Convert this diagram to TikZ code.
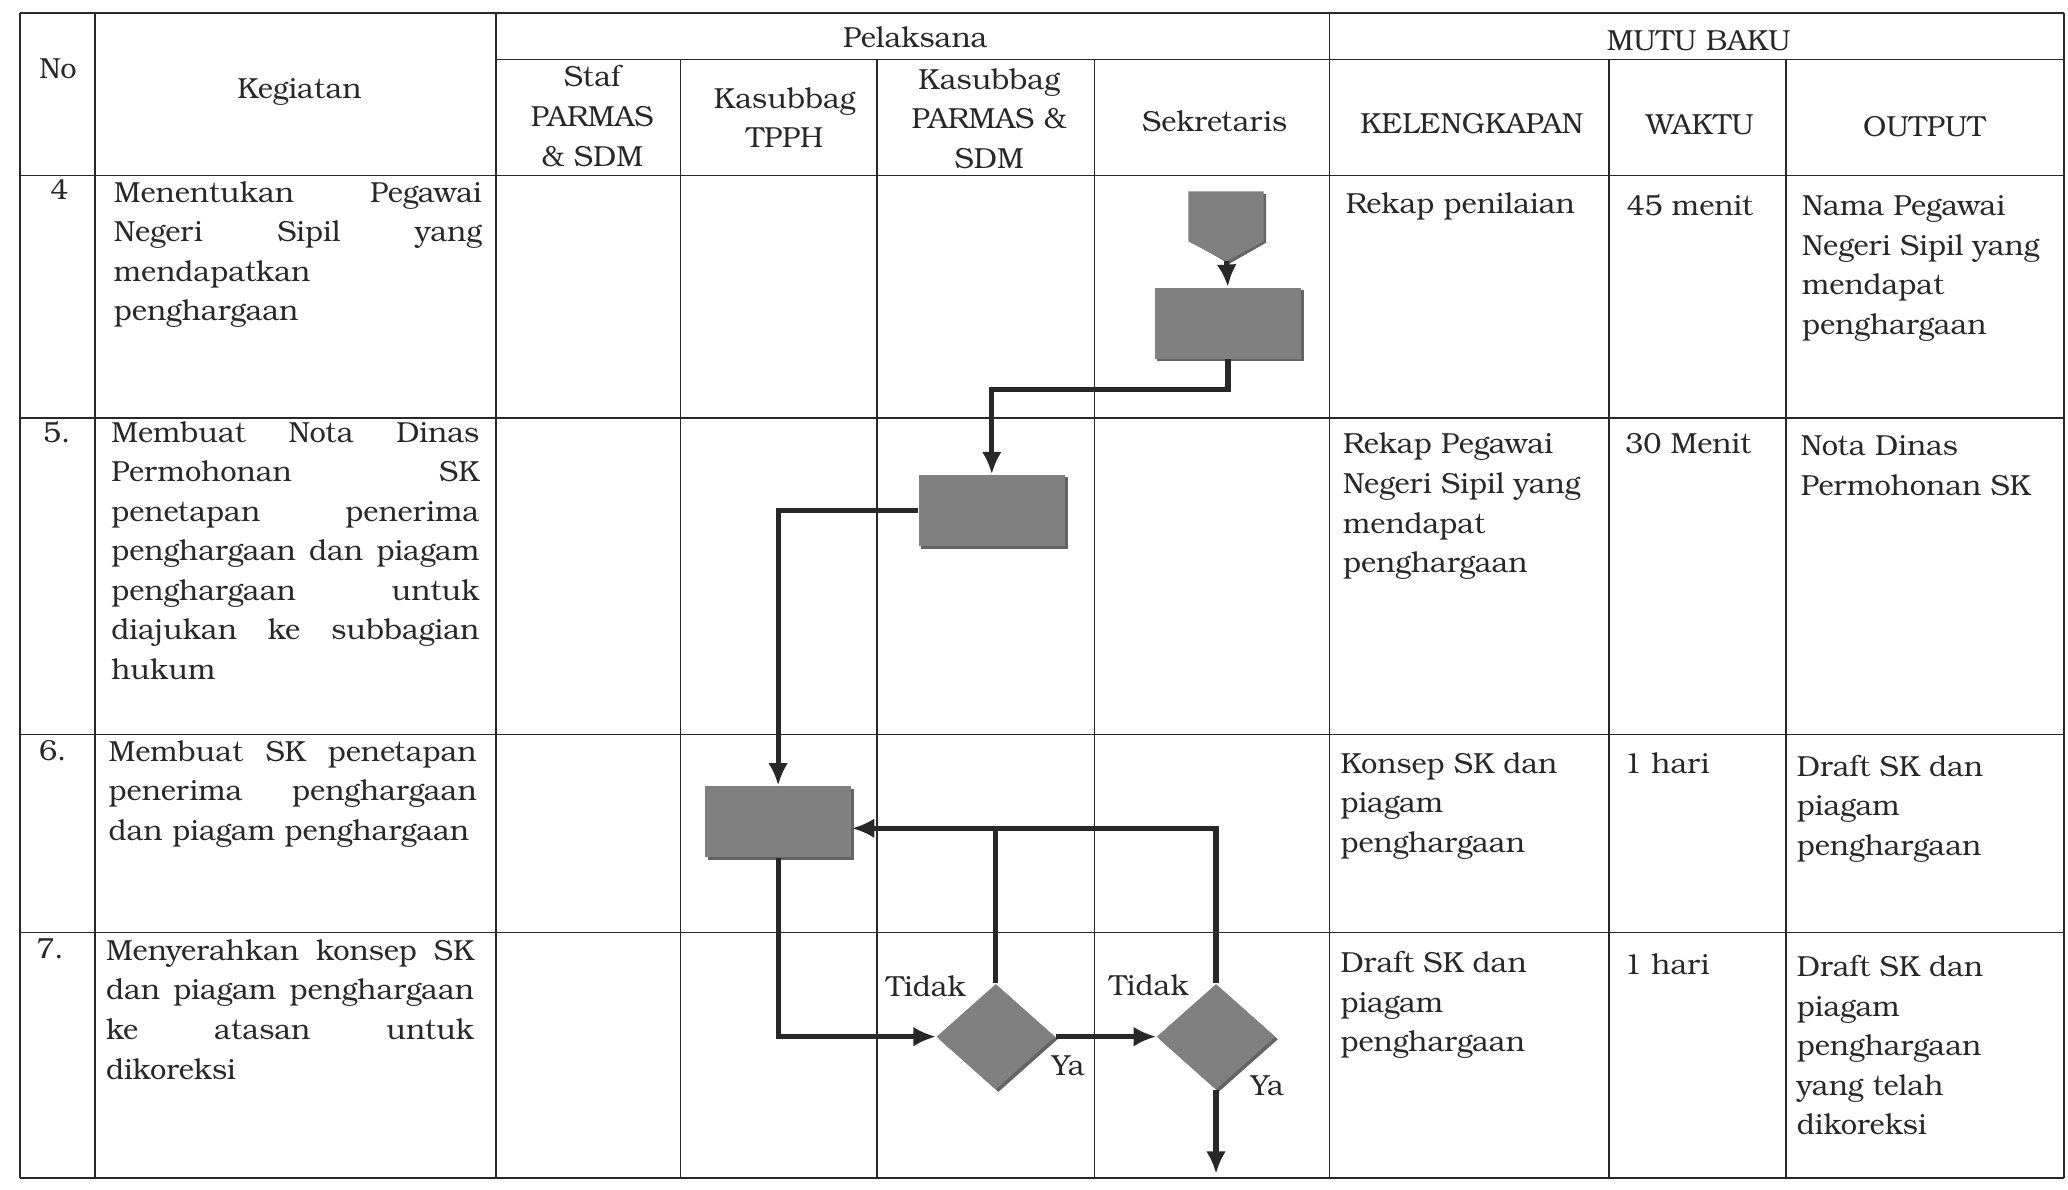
\documentclass[tikz,border=0pt]{standalone}
\usepackage{fontspec}
\setmainfont{TeX Gyre Bonum}
\usetikzlibrary{shapes.geometric,arrows.meta,shadows}
\newcommand{\jl}[1]{\leavevmode\hbox to 139.5pt{\spaceskip=0.25em plus 1fil\relax #1}}
\definecolor{boxgray}{RGB}{128,128,128}
\definecolor{shgray}{RGB}{100,100,100}
\definecolor{ink}{RGB}{40,40,40}
\tikzset{
  grid/.style={draw=ink,line width=0.6pt},
  txt/.style={font=\fontsize{11}{15}\selectfont,text=ink,inner sep=0pt},
  kg/.style={txt,anchor=north west,align=left,text width=139.5pt},
  rc/.style={txt,anchor=north west,align=left},
  hd/.style={txt,align=center},
  proc/.style={rectangle,fill=boxgray,minimum width=55.5pt,minimum height=27pt,inner sep=0pt,
     drop shadow={shadow xshift=1pt,shadow yshift=-1pt,fill=shgray,opacity=1}},
  dec/.style={diamond,fill=boxgray,minimum width=45pt,minimum height=40pt,inner sep=0pt,aspect=1.1,
     drop shadow={shadow xshift=1pt,shadow yshift=-1pt,fill=shgray,opacity=1}},
  flow/.style={draw=ink,line width=2pt},
  arr/.style={flow,-{Latex[length=8.5pt,width=7.5pt]}},
  lbl/.style={txt}
}
\begin{document}
\begin{tikzpicture}[x=0.5pt,y=-0.5pt]
\useasboundingbox (0,0) rectangle (1568,902);
% ---- table grid ----
\draw[grid] (15,10) -- (1565,10);
\draw[grid] (376,45) -- (1565,45);
\foreach \y in {133,317,557,707,893} \draw[grid] (15,\y) -- (1565,\y);
\foreach \x in {15,72,376,1008,1565} \draw[grid] (\x,10) -- (\x,893);
\foreach \x in {516,665,830,1220,1354} \draw[grid] (\x,45) -- (\x,893);
% ---- headers ----
\node[hd] (hno) at (44,52) {No};
\node[hd] (hkeg) at (227,70) {Kegiatan};
\node[hd] (hpel) at (694,28) {Pelaksana};
\node[hd] (hmutu) at (1288,31) {MUTU BAKU};
\node[hd] (hstaf) at (449,88) {Staf\\PARMAS\\\& SDM};
\node[hd] (htpph) at (595,89) {Kasubbag\\TPPH};
\node[hd] (hparm) at (750,90) {Kasubbag\\PARMAS \&\\SDM};
\node[hd] (hsek) at (921,92) {Sekretaris};
\node[hd] (hkel) at (1116,94) {KELENGKAPAN};
\node[hd] (hwak) at (1289,95) {WAKTU};
\node[hd] (hout) at (1459,96) {OUTPUT};
% ---- numbers ----
\node[txt,anchor=north] (n4) at (45,136) {4};
\node[txt,anchor=north] (n5) at (43,319) {5.};
\node[txt,anchor=north] (n6) at (40,561) {6.};
\node[txt,anchor=north] (n7) at (38,711) {7.};
% ---- kegiatan ----
\node[kg] (k4) at (86,137) {\jl{Menentukan Pegawai}\\\jl{Negeri Sipil yang}\\mendapatkan\\penghargaan};
\node[kg] (k5) at (84,319) {\jl{Membuat Nota Dinas}\\\jl{Permohonan SK}\\\jl{penetapan penerima}\\\jl{penghargaan dan piagam}\\\jl{penghargaan untuk}\\\jl{diajukan ke subbagian}\\hukum};
\node[kg] (k6) at (82,561) {\jl{Membuat SK penetapan}\\\jl{penerima penghargaan}\\dan piagam penghargaan};
\node[kg] (k7) at (80,712) {\jl{Menyerahkan konsep SK}\\\jl{dan piagam penghargaan}\\\jl{ke atasan untuk}\\dikoreksi};
% ---- mutu baku ----
\node[rc] (kel4) at (1020,146) {Rekap penilaian};
\node[rc] (wak4) at (1233,147) {45 menit};
\node[rc] (out4) at (1366,148) {Nama Pegawai\\Negeri Sipil yang\\mendapat\\penghargaan};
\node[rc] (kel5) at (1018,328) {Rekap Pegawai\\Negeri Sipil yang\\mendapat\\penghargaan};
\node[rc] (wak5) at (1232,328) {30 Menit};
\node[rc] (out5) at (1365,330) {Nota Dinas\\Permohonan SK};
\node[rc] (kel6) at (1016,570) {Konsep SK dan\\piagam\\penghargaan};
\node[rc] (wak6) at (1231,570) {1 hari};
\node[rc] (out6) at (1362,572) {Draft SK dan\\piagam\\penghargaan};
\node[rc] (kel7) at (1016,721) {Draft SK dan\\piagam\\penghargaan};
\node[rc] (wak7) at (1231,723) {1 hari};
\node[rc] (out7) at (1362,724) {Draft SK dan\\piagam\\penghargaan\\yang telah\\dikoreksi};
% ---- flowchart ----
\fill[shgray] (904,147) -- (960,147) -- (960,184) -- (932,200) -- (904,184) -- cycle;
\fill[boxgray] (901,145) -- (958,145) -- (958,183) -- (930,198) -- (901,183) -- cycle;
\coordinate (offtip) at (930,198);
\node[proc] (b1) at (931,245) {};
\node[proc] (b2) at (752,387) {};
\node[proc] (b3) at (590,623) {};
\node[dec] (d1) at (755,786) {};
\node[dec] (d2) at (922,786) {};
\coordinate (endc) at (922,890);
\coordinate (join) at ([yshift=-2.5pt]b3.east);
\draw[arr] (offtip) -- (b1.north);
\draw[arr] (b1.south) -- ++(0,23) -| (b2.north);
\draw[arr] (b2.west) -| (b3.north);
\draw[arr] (b3.south) |- (d1.west);
\draw[flow] (d1.north) -- (d1.north |- join);
\draw[arr] (d2.north) |- (join);
\draw[arr] (d1.east) -- (d2.west);
\draw[arr] (d2.south) -- (endc);
\node[lbl] (t1) at (702,748) {Tidak};
\node[lbl] (y1) at (810,808) {Ya};
\node[lbl] (t2) at (871,747) {Tidak};
\node[lbl] (y2) at (961,823) {Ya};
\end{tikzpicture}
\end{document}
